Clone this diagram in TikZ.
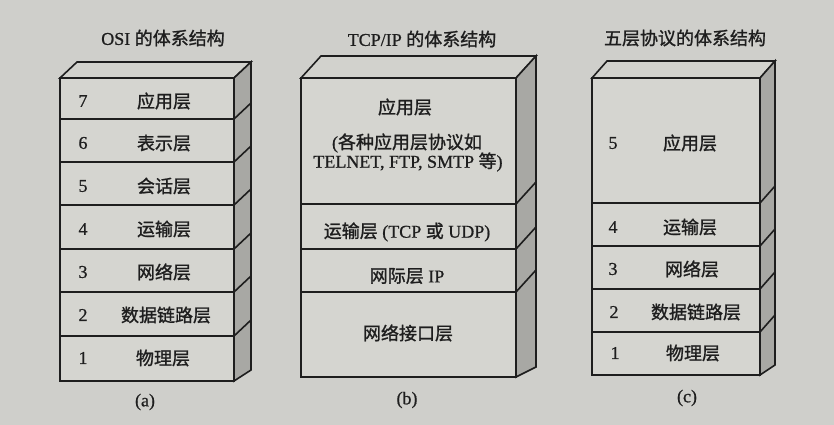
\documentclass[tikz,border=0pt]{standalone}
\usepackage{fontspec}
\setmainfont[FakeBold=0.8]{Liberation Serif}
\newfontfamily\cjk[FakeBold=1.2]{Noto Sans CJK SC}
\definecolor{paper}{HTML}{CFCFCB}
\definecolor{frontc}{HTML}{D5D5D0}
\definecolor{topc}{HTML}{D2D2CD}
\definecolor{sidec}{HTML}{A8A8A4}
\definecolor{ink}{HTML}{1E1E1E}
% #1 L, #2 R, #3 T, #4 B, #5 dx, #6 dy, #7 bottom dy, #8 boundaries
\newcommand\stackbox[8]{%
  \filldraw[facebox, fill=topc] (#1,#3) -- (#1+#5,#3-#6) -- (#2+#5,#3-#6) -- (#2,#3) -- cycle;
  \filldraw[facebox, fill=sidec] (#2,#3) -- (#2+#5,#3-#6) -- (#2+#5,#4-#7) -- (#2,#4) -- cycle;
  \filldraw[facebox, fill=frontc] (#1,#3) rectangle (#2,#4);
  \foreach \yy in {#8} {\draw[facebox] (#1,\yy) -- (#2,\yy) -- (#2+#5,\yy-#6);}
}
\begin{document}
\begin{tikzpicture}[x=1pt,y=-1pt,
  facebox/.style={draw=ink, line width=1.6pt, line join=miter},
  lbl/.style={inner sep=0pt, text=ink, font=\fontsize{18}{20}\selectfont},
  num/.style={lbl}]
\useasboundingbox (0,0) rectangle (834,425);
\fill[paper] (0,0) rectangle (834,425);

% ---------- (a) OSI ----------
\node[lbl] (ta) at (163,38) {OSI {\cjk 的体系结构}};
\stackbox{60}{234}{78}{381}{17}{16}{11}{119,162,205,249,292,336}
\node[num] (a7) at (83,101) {7};   \node[lbl] (la7) at (164,101) {\cjk 应用层};
\node[num] (a6) at (83,143) {6};   \node[lbl] (la6) at (164,143) {\cjk 表示层};
\node[num] (a5) at (83,186) {5};   \node[lbl] (la5) at (164,186) {\cjk 会话层};
\node[num] (a4) at (83,229) {4};   \node[lbl] (la4) at (164,229) {\cjk 运输层};
\node[num] (a3) at (83,272) {3};   \node[lbl] (la3) at (164,272) {\cjk 网络层};
\node[num] (a2) at (83,315) {2};   \node[lbl] (la2) at (166,315) {\cjk 数据链路层};
\node[num] (a1) at (83,358) {1};   \node[lbl] (la1) at (163,358) {\cjk 物理层};
\node[lbl] (ca) at (145,402) {(a)};

% ---------- (b) TCP/IP ----------
\node[lbl] (tb) at (422,39) {TCP/IP {\cjk 的体系结构}};
\stackbox{301}{516}{78}{377}{20}{22}{10}{204,249,292}
\node[lbl] (lb4) at (405,107) {\cjk 应用层};
\node[lbl] (lb4a) at (407,143) {(\cjk 各种应用层协议如};
\node[lbl] (lb4b) at (408,162) {TELNET, FTP, SMTP {\cjk 等})};
\node[lbl] (lb3) at (407,232) {{\cjk 运输层} (TCP {\cjk 或} UDP)};
\node[lbl] (lb2) at (407,276) {{\cjk 网际层} IP};
\node[lbl] (lb1) at (408,333) {\cjk 网络接口层};
\node[lbl] (cb) at (407,400) {(b)};

% ---------- (c) five layers ----------
\node[lbl] (tc) at (685,38) {\cjk 五层协议的体系结构};
\stackbox{592}{760}{78}{375}{15}{17}{10}{203,246,289,332}
\node[num] (c5) at (613,143) {5};  \node[lbl] (lc5) at (690,143) {\cjk 应用层};
\node[num] (c4) at (613,227) {4};  \node[lbl] (lc4) at (690,227) {\cjk 运输层};
\node[num] (c3) at (613,269) {3};  \node[lbl] (lc3) at (692,269) {\cjk 网络层};
\node[num] (c2) at (614,312) {2};  \node[lbl] (lc2) at (696,312) {\cjk 数据链路层};
\node[num] (c1) at (615,353) {1};  \node[lbl] (lc1) at (693,353) {\cjk 物理层};
\node[lbl] (cc) at (687,398) {(c)};
\end{tikzpicture}
\end{document}
